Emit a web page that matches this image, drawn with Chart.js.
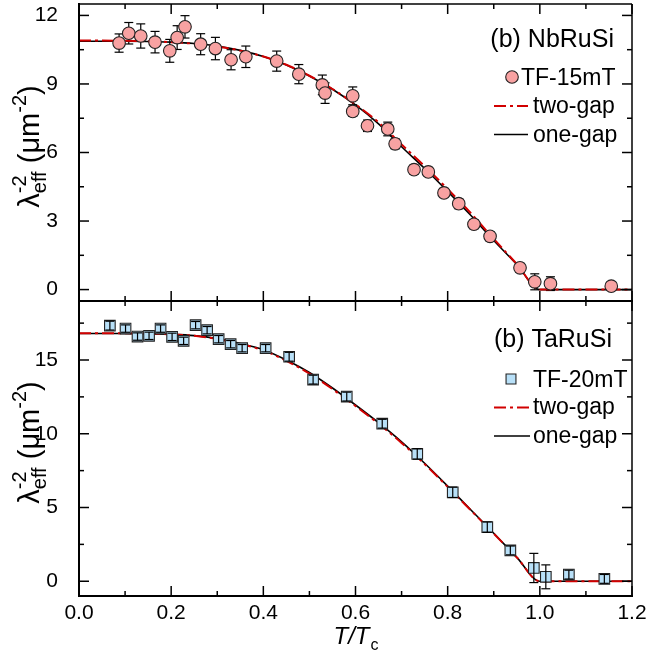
<!DOCTYPE html>
<html>
<head>
<meta charset="utf-8">
<script src="https://cdn.jsdelivr.net/npm/chart.js@4.4.1/dist/chart.umd.min.js"></script>
<style>
  html, body { margin: 0; padding: 0; background: #fff; }
  #wrap { position: relative; width: 650px; height: 666px; }
  #wrap canvas { position: absolute; left: 0; top: 0; }
</style>
</head>
<body>
<div id="wrap">
  <canvas id="nb-chart" width="650" height="666"></canvas>
  <canvas id="ta-chart" width="650" height="666"></canvas>
</div>
<script>
// Datos
const xTicks = [0, 0.2, 0.4, 0.6, 0.8, 1.0, 1.2];
const yTicksNb = [0, 3, 6, 9, 12];
const yTicksTa = [0, 5, 10, 15];

// NbRuSi, TF-15mT
const tNb = [0.087, 0.108, 0.134, 0.165, 0.197, 0.213, 0.230, 0.264, 0.296, 0.330, 0.362, 0.429, 0.477, 0.528, 0.534,
             0.594, 0.594, 0.626, 0.670, 0.686, 0.727, 0.758, 0.792, 0.824, 0.857, 0.892, 0.957, 0.989, 1.023, 1.155];
const lamNb = [10.79, 11.22, 11.10, 10.83, 10.45, 11.03, 11.50, 10.74, 10.55, 10.06, 10.19, 10.00, 9.43, 8.96, 8.60,
               8.48, 7.80, 7.17, 7.03, 6.38, 5.25, 5.15, 4.23, 3.76, 2.86, 2.33, 0.95, 0.34, 0.26, 0.15];
const errNb = [0.40, 0.47, 0.53, 0.47, 0.50, 0.52, 0.49, 0.46, 0.49, 0.44, 0.47, 0.44, 0.42, 0.43, 0.45,
               0.39, 0.22, 0.25, 0.30, 0.22, 0.20, 0.20, 0.20, 0.22, 0.20, 0.20, 0.20, 0.35, 0.30, 0.15];

// TaRuSi, TF-20mT
const tTa = [0.067, 0.101, 0.127, 0.152, 0.177, 0.202, 0.227, 0.253, 0.278, 0.303, 0.329, 0.354, 0.405, 0.456,
             0.508, 0.581, 0.658, 0.734, 0.811, 0.886, 0.936, 0.987, 1.013, 1.063, 1.140];
const lamTa = [17.33, 17.13, 16.59, 16.64, 17.13, 16.57, 16.30, 17.36, 17.02, 16.41, 16.07, 15.80, 15.80, 15.22,
               13.67, 12.52, 10.68, 8.63, 6.03, 3.67, 2.09, 0.90, 0.30, 0.45, 0.16];
const errTa = [0.30, 0.25, 0.25, 0.25, 0.25, 0.25, 0.25, 0.25, 0.25, 0.25, 0.25, 0.25, 0.25, 0.30,
               0.30, 0.30, 0.30, 0.35, 0.35, 0.35, 0.30, 0.99, 0.81, 0.30, 0.30];

// Curvas de ajuste
const fitT = [0, 0.05, 0.1, 0.15, 0.2, 0.25, 0.3, 0.35, 0.4, 0.45, 0.5, 0.55, 0.6, 0.65, 0.7, 0.75, 0.8, 0.85, 0.9, 0.95, 1.0, 1.2];
const oneGapNb = [10.87, 10.87, 10.87, 10.86, 10.83, 10.77, 10.66, 10.47, 10.20, 9.83, 9.35, 8.77, 8.08, 7.25, 6.25, 5.30, 4.30, 3.25, 2.15, 1.10, 0, 0];
const twoGapNb = [10.90, 10.90, 10.89, 10.87, 10.83, 10.76, 10.64, 10.46, 10.20, 9.84, 9.36, 8.78, 8.10, 7.32, 6.35, 5.40, 4.40, 3.35, 2.22, 1.12, 0, 0];
const oneGapTa = [16.80, 16.80, 16.80, 16.78, 16.74, 16.65, 16.45, 16.12, 15.70, 15.00, 14.15, 13.10, 11.95, 10.75, 9.45, 8.00, 6.45, 4.85, 3.25, 1.62, 0, 0];
const twoGapTa = [16.82, 16.82, 16.81, 16.79, 16.74, 16.64, 16.43, 16.09, 15.65, 14.94, 14.08, 13.03, 11.88, 10.68, 9.38, 7.94, 6.40, 4.82, 3.23, 1.62, 0, 0];

const FONT = "'Liberation Sans', Arial, Helvetica, sans-serif";
Chart.defaults.font.family = FONT;
Chart.defaults.color = '#000';

const pts = (xs, ys) => xs.map((x, i) => ({ x: x, y: ys[i] }));

function line(ctx, x0, y0, x1, y1) {
    ctx.beginPath();
    ctx.moveTo(x0, y0);
    ctx.lineTo(x1, y1);
    ctx.stroke();
}

// Barras de error
function drawErrors(chart, cfg) {
    const { ctx, scales: { x, y } } = chart;
    ctx.save();
    ctx.strokeStyle = '#000';
    ctx.lineWidth = 1.2;
    cfg.xs.forEach((t, i) => {
        const px = x.getPixelForValue(t);
        const y0 = y.getPixelForValue(cfg.ys[i] - cfg.errs[i]);
        const y1 = y.getPixelForValue(cfg.ys[i] + cfg.errs[i]);
        line(ctx, px, y0, px, y1);
        line(ctx, px - 4.5, y0, px + 4.5, y0);
        line(ctx, px - 4.5, y1, px + 4.5, y1);
    });
    ctx.restore();
}

// Marco con marcas hacia dentro en los cuatro lados
function drawFrame(chart, cfg) {
    const { ctx, chartArea: a, scales: { x, y } } = chart;
    ctx.save();
    ctx.strokeStyle = '#000';
    ctx.lineWidth = 1.5;
    for (let k = 0; k <= 12; k++) {
        const px = x.getPixelForValue(k / 10);
        const len = k % 2 === 0 ? 10 : 5;
        line(ctx, px, a.bottom, px, a.bottom - len);
        line(ctx, px, a.top, px, a.top + len);
    }
    const step = cfg.yMajor / 2;
    for (let v = 0; v <= y.max + 1e-9; v += step) {
        const py = y.getPixelForValue(v);
        const major = Math.abs(v / cfg.yMajor - Math.round(v / cfg.yMajor)) < 1e-6;
        const len = major ? 10 : 5;
        line(ctx, a.left, py, a.left + len, py);
        line(ctx, a.right, py, a.right - len, py);
    }
    line(ctx, a.left, a.top, a.right, a.top);
    line(ctx, a.right, a.top, a.right, a.bottom);
    ctx.lineWidth = 2;
    line(ctx, a.left, a.top - 1, a.left, a.bottom + 1);
    line(ctx, a.left - 1, a.bottom, a.right + 1, a.bottom);
    ctx.restore();
}

// Leyenda dentro del panel
function drawLegend(chart, cfg) {
    const { ctx } = chart;
    const L = cfg.legend;
    const ds = chart.data.datasets;
    ctx.save();
    ctx.fillStyle = '#000';
    ctx.textBaseline = 'alphabetic';
    ctx.font = '25px ' + FONT;
    ctx.textAlign = 'right';
    ctx.fillText(cfg.panelTitle, L.titleX, L.titleY);

    ctx.textAlign = 'left';
    ctx.font = '23px ' + FONT;
    ctx.fillStyle = ds[0].pointBackgroundColor;
    ctx.strokeStyle = ds[0].pointBorderColor;
    ctx.lineWidth = ds[0].pointBorderWidth;
    Chart.helpers.drawPoint(ctx, {
        pointStyle: ds[0].pointStyle, radius: L.markR, rotation: 0, borderWidth: ds[0].pointBorderWidth
    }, L.markX, L.markY);
    ctx.fillStyle = '#000';
    ctx.fillText(ds[0].label, L.textX, L.textY);

    L.rows.forEach((r, i) => {
        const d = ds[i + 1];
        ctx.save();
        ctx.strokeStyle = d.borderColor;
        ctx.lineWidth = d.borderWidth;
        ctx.setLineDash(d.borderDash || []);
        line(ctx, L.lineX0, r.lineY, L.lineX1, r.lineY);
        ctx.restore();
        ctx.fillText(d.label, L.textX2, r.textY);
    });
    ctx.restore();
}

// Título del eje y: λ_eff^-2 (μm^-2)
function drawYTitle(ctx, cx, cy) {
    const big = '29px ' + FONT, small = '20px ' + FONT;
    ctx.save();
    ctx.font = big;
    const wL = ctx.measureText('λ').width;
    const wP = ctx.measureText(' (μm').width;
    const wC = ctx.measureText(')').width;
    ctx.font = small;
    const wEff = ctx.measureText('eff').width;
    const wM2 = ctx.measureText('-2').width;
    const total = wL + Math.max(wEff, wM2) + wP + wM2 + wC;
    ctx.translate(cx, cy);
    ctx.rotate(-Math.PI / 2);
    ctx.fillStyle = '#000';
    ctx.textAlign = 'left';
    ctx.textBaseline = 'alphabetic';
    let xx = -total / 2;
    ctx.font = big; ctx.fillText('λ', xx, 0); xx += wL;
    ctx.font = small; ctx.fillText('eff', xx, 7); ctx.fillText('-2', xx, -13); xx += Math.max(wEff, wM2);
    ctx.font = big; ctx.fillText(' (μm', xx, 0); xx += wP;
    ctx.font = small; ctx.fillText('-2', xx, -13); xx += wM2;
    ctx.font = big; ctx.fillText(')', xx, 0);
    ctx.restore();
}

// Título del eje x: T/Tc
function drawXTitle(ctx, cx, base) {
    ctx.save();
    ctx.fillStyle = '#000';
    ctx.textBaseline = 'alphabetic';
    ctx.textAlign = 'left';
    ctx.font = 'italic 24px ' + FONT;
    const w1 = ctx.measureText('T/T').width;
    ctx.font = '16px ' + FONT;
    const w2 = ctx.measureText('c').width;
    let xx = cx - (w1 + w2) / 2;
    ctx.font = 'italic 24px ' + FONT;
    ctx.fillText('T/T', xx, base);
    ctx.font = '16px ' + FONT;
    ctx.fillText('c', xx + w1 + 1, base + 6);
    ctx.restore();
}

function panelPlugin(cfg) {
    return {
        id: 'panel',
        beforeDatasetsDraw(chart) { if (cfg.errBehind) drawErrors(chart, cfg); },
        afterDatasetsDraw(chart) {
            if (!cfg.errBehind) drawErrors(chart, cfg);
            drawFrame(chart, cfg);
            drawLegend(chart, cfg);
            const a = chart.chartArea;
            drawYTitle(chart.ctx, 39, (a.top + a.bottom) / 2 - 6);
            if (cfg.xTitle) drawXTitle(chart.ctx, (a.left + a.right) / 2, 644);
        }
    };
}

function makePanel(canvasId, cfg) {
    const ctx = document.getElementById(canvasId).getContext('2d');
    return new Chart(ctx, {
        type: 'line',
        data: {
            datasets: [{
                label: cfg.seriesLabel,
                data: pts(cfg.xs, cfg.ys),
                showLine: false,
                pointStyle: cfg.pointStyle,
                pointRadius: cfg.pointRadius,
                pointBackgroundColor: cfg.fill,
                pointBorderColor: '#222',
                pointBorderWidth: 1.1,
                order: 0
            }, {
                label: 'two-gap',
                data: pts(fitT, cfg.twoGap),
                borderColor: '#d10000',
                borderWidth: 2,
                borderDash: [12, 4, 3, 4],
                pointRadius: 0,
                cubicInterpolationMode: 'monotone',
                order: 1
            }, {
                label: 'one-gap',
                data: pts(fitT, cfg.oneGap),
                borderColor: '#000',
                borderWidth: 1.6,
                pointRadius: 0,
                cubicInterpolationMode: 'monotone',
                order: 2
            }]
        },
        options: {
            responsive: false,
            animation: false,
            devicePixelRatio: 1,
            events: [],
            layout: { padding: cfg.padding, autoPadding: false },
            plugins: { legend: { display: false }, tooltip: { enabled: false } },
            scales: {
                x: {
                    type: 'linear',
                    display: cfg.xTitle,
                    min: 0,
                    max: 1.2,
                    afterBuildTicks: s => { s.ticks = xTicks.map(v => ({ value: v })); },
                    ticks: { callback: v => v.toFixed(1), font: { size: 21 }, padding: -3, maxRotation: 0, autoSkip: false },
                    grid: { display: false },
                    border: { display: false },
                    afterFit: s => { s.height = cfg.xTitle ? 70 : 0; s.paddingLeft = 0; s.paddingRight = 0; }
                },
                y: {
                    type: 'linear',
                    min: cfg.yMin,
                    max: cfg.yMax,
                    afterBuildTicks: s => { s.ticks = cfg.yTicks.map(v => ({ value: v })); },
                    ticks: { font: { size: 21 }, padding: 13 },
                    grid: { display: false },
                    border: { display: false },
                    afterFit: s => { s.width = 79; s.paddingTop = 0; s.paddingBottom = 0; }
                }
            }
        },
        plugins: [panelPlugin(cfg)]
    });
}

makePanel('nb-chart', {
    panelTitle: '(b) NbRuSi',
    seriesLabel: 'TF-15mT',
    xs: tNb, ys: lamNb, errs: errNb, errBehind: true,
    oneGap: oneGapNb, twoGap: twoGapNb,
    pointStyle: 'circle', pointRadius: 6.3, fill: '#f8a2a2',
    yMin: -0.5, yMax: 12.5, yTicks: yTicksNb, yMajor: 3,
    padding: { left: 0, right: 18, top: 4, bottom: 365 },
    xTitle: false,
    legend: {
        titleX: 614, titleY: 47,
        markX: 512, markY: 77, markR: 6.3, textX: 521, textY: 85,
        lineX0: 494, lineX1: 528, textX2: 533,
        rows: [{ lineY: 106, textY: 113 }, { lineY: 134.5, textY: 142 }]
    }
});

makePanel('ta-chart', {
    panelTitle: '(b) TaRuSi',
    seriesLabel: 'TF-20mT',
    xs: tTa, ys: lamTa, errs: errTa, errBehind: false,
    oneGap: oneGapTa, twoGap: twoGapTa,
    pointStyle: 'rect', pointRadius: 7.5, fill: '#b8e0f8',
    yMin: -1, yMax: 19, yTicks: yTicksTa, yMajor: 5,
    padding: { left: 0, right: 18, top: 301, bottom: 0 },
    xTitle: true,
    legend: {
        titleX: 612, titleY: 347,
        markX: 511, markY: 379, markR: 7, textX: 533, textY: 387,
        lineX0: 494, lineX1: 530, textX2: 533,
        rows: [{ lineY: 407.5, textY: 414 }, { lineY: 436, textY: 443 }]
    }
});
</script>
</body>
</html>
